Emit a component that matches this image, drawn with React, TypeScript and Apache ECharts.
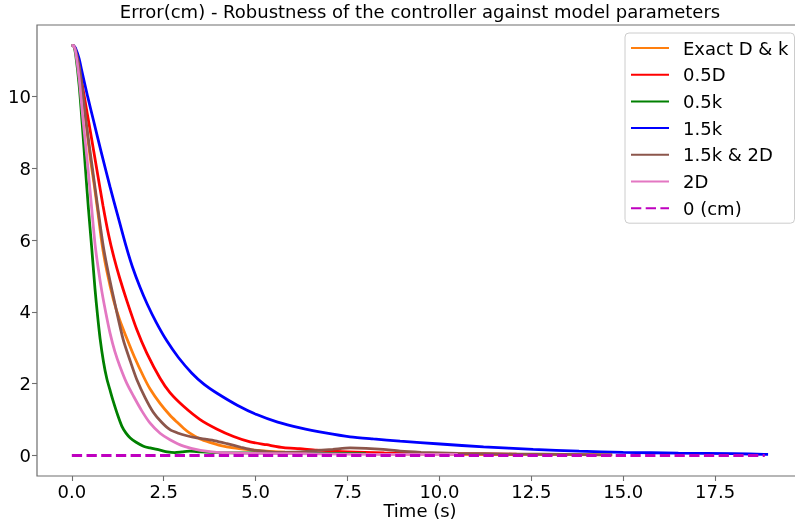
import React, { useEffect, useRef } from "react";
import * as echarts from "echarts";

const TITLE = "Error(cm) - Robustness of the controller against model parameters";
const X_NAME = "Time (s)";
const X_TICKS = [0, 2.5, 5, 7.5, 10, 12.5, 15, 17.5];
const Y_TICKS = [0, 2, 4, 6, 8, 10];

const tExact = [0, 0.05, 0.1, 0.2, 0.3, 0.4, 0.5, 0.6, 0.7, 0.82, 0.95, 1.13, 1.3, 1.5, 1.7, 1.95, 2.13, 2.4, 2.67, 2.86, 3.04, 3.2, 3.49, 3.8, 4.0, 4.4, 4.85, 5.3, 5.8, 6.2, 7.0, 8.0, 9.0, 10.0, 11.5, 13.0, 14.7];
const vExact = [11.42, 11.41, 11.3, 10.8, 10.05, 9.15, 8.3, 7.6, 6.85, 5.9, 5.15, 4.35, 3.78, 3.25, 2.75, 2.2, 1.85, 1.45, 1.12, 0.93, 0.76, 0.63, 0.46, 0.35, 0.29, 0.21, 0.16, 0.12, 0.09, 0.07, 0.06, 0.05, 0.04, 0.04, 0.03, 0.03, 0.02];

const tHalfD = [0, 0.05, 0.1, 0.2, 0.31, 0.5, 0.7, 0.85, 1.0, 1.15, 1.3, 1.5, 1.77, 2.04, 2.4, 2.67, 3.04, 3.49, 3.94, 4.4, 4.85, 5.3, 5.76, 6.2, 6.66, 7.5, 8.5, 10.0, 12.1];
const vHalfD = [11.42, 11.41, 11.3, 10.85, 10.17, 9.05, 7.85, 6.95, 6.15, 5.5, 4.95, 4.3, 3.5, 2.85, 2.15, 1.75, 1.37, 1.0, 0.74, 0.53, 0.38, 0.3, 0.22, 0.19, 0.15, 0.1, 0.07, 0.05, 0.04];

const tHalfK = [0, 0.05, 0.1, 0.2, 0.3, 0.37, 0.45, 0.54, 0.63, 0.7, 0.77, 0.86, 0.95, 1.05, 1.13, 1.25, 1.36, 1.47, 1.59, 1.75, 1.95, 2.13, 2.4, 2.6, 2.8, 3.0, 3.2, 3.5, 3.94, 5.0, 6.0, 7.0, 8.0];
const vHalfK = [11.42, 11.41, 11.2, 10.3, 9.0, 8.0, 6.9, 5.8, 4.65, 3.9, 3.25, 2.62, 2.15, 1.78, 1.5, 1.12, 0.82, 0.63, 0.49, 0.37, 0.26, 0.21, 0.15, 0.1, 0.08, 0.1, 0.12, 0.1, 0.08, 0.07, 0.06, 0.06, 0.05];

const tOneHalfK = [0, 0.05, 0.1, 0.2, 0.27, 0.43, 0.59, 0.8, 1.04, 1.25, 1.47, 1.65, 1.85, 2.05, 2.3, 2.58, 2.9, 3.26, 3.6, 3.94, 4.5, 5.03, 5.6, 6.21, 6.9, 7.57, 8.2, 8.93, 10.02, 11.2, 12.55, 13.8, 15.0, 16.5, 18.0, 18.94];
const vOneHalfK = [11.42, 11.41, 11.35, 11.05, 10.72, 10.0, 9.33, 8.45, 7.48, 6.68, 5.85, 5.25, 4.7, 4.22, 3.7, 3.2, 2.73, 2.3, 1.98, 1.74, 1.4, 1.14, 0.93, 0.77, 0.63, 0.52, 0.46, 0.4, 0.32, 0.24, 0.17, 0.12, 0.09, 0.065, 0.05, 0.03];

const tKD = [0, 0.05, 0.1, 0.2, 0.3, 0.4, 0.56, 0.7, 0.86, 1.0, 1.2, 1.4, 1.6, 1.77, 2.0, 2.22, 2.45, 2.67, 2.9, 3.13, 3.4, 3.67, 3.9, 4.22, 4.6, 4.94, 5.3, 5.58, 6.21, 6.7, 7.1, 7.57, 8.0, 8.47, 8.93, 9.5, 10.5, 12.0, 13.5, 14.7];
const vKD = [11.42, 11.41, 11.3, 10.85, 10.1, 9.2, 8.0, 6.95, 5.8, 5.05, 4.1, 3.22, 2.6, 2.11, 1.6, 1.2, 0.92, 0.72, 0.62, 0.55, 0.49, 0.45, 0.41, 0.33, 0.23, 0.15, 0.11, 0.09, 0.1, 0.14, 0.17, 0.21, 0.2, 0.17, 0.12, 0.09, 0.06, 0.04, 0.03, 0.02];

const tTwoD = [0, 0.05, 0.1, 0.2, 0.3, 0.44, 0.53, 0.63, 0.72, 0.82, 0.93, 1.04, 1.17, 1.31, 1.5, 1.68, 1.9, 2.13, 2.4, 2.67, 3.04, 3.5, 3.94, 4.85, 6.0, 7.5, 9.0, 10.5];
const vTwoD = [11.42, 11.41, 11.25, 10.5, 9.4, 8.0, 7.0, 5.9, 5.2, 4.55, 3.95, 3.41, 2.9, 2.48, 2.0, 1.65, 1.25, 0.9, 0.62, 0.44, 0.26, 0.14, 0.09, 0.06, 0.05, 0.04, 0.03, 0.03];

const tZero = [0, 18.85];
const vZero = [0, 0];

const NAMES = ["Exact D & k", "0.5D", "0.5k", "1.5k", "1.5k & 2D", "2D", "0 (cm)"];
const COLORS = ["#ff7f0e", "#ff0000", "#008000", "#0000ff", "#8c564b", "#e377c2", "#bf00bf"];

const zip = (t: number[], v: number[]) => t.map((x, i) => [x, v[i]]);

export default function App() {
  const ref = useRef<HTMLDivElement>(null);
  useEffect(() => {
    document.body.style.margin = "0";
    if (!ref.current) return;
    const chart = echarts.init(ref.current, undefined, { renderer: "svg" });
    const font = "DejaVu Sans";
    const axisColor = "#6e6e6e";
    const datasets = [
      zip(tExact, vExact),
      zip(tHalfD, vHalfD),
      zip(tHalfK, vHalfK),
      zip(tOneHalfK, vOneHalfK),
      zip(tKD, vKD),
      zip(tTwoD, vTwoD),
      zip(tZero, vZero),
    ];
    const series = datasets.map((d, i) => ({
      name: NAMES[i],
      type: "line",
      data: d,
      symbol: "none",
      smooth: i === 6 ? false : 0.25,
      color: COLORS[i],
      lineStyle: {
        color: COLORS[i],
        width: 2.78,
        type: i === 6 ? [10.3, 4.4] : "solid",
      },
      emphasis: { disabled: true },
    }));
    chart.setOption({
      animation: false,
      textStyle: { fontFamily: font },
      title: {
        text: TITLE,
        left: 420,
        textAlign: "center",
        top: 2,
        padding: 0,
        textStyle: { fontSize: 18, fontWeight: "normal", color: "#000", fontFamily: font },
      },
      legend: {
        orient: "vertical",
        left: 625,
        top: 33,
        padding: [5, 6, 5, 5],
        itemWidth: 38,
        itemHeight: 20,
        itemGap: 6.7,
        borderColor: "#cccccc",
        borderWidth: 1,
        borderRadius: 4,
        backgroundColor: "rgba(255,255,255,0.8)",
        itemStyle: { opacity: 0 },
        textStyle: { fontSize: 18, lineHeight: 20, color: "#000", fontFamily: font, padding: [0, 0, 0, 9] },
        data: NAMES,
      },
      grid: {
        left: 37,
        top: 25,
        right: -8,
        bottom: 47,
        containLabel: false,
        outerBoundsMode: "none",
        show: true,
        borderColor: axisColor,
        borderWidth: 1.2,
        backgroundColor: "transparent",
      },
      xAxis: {
        type: "value",
        min: -0.947,
        max: 19.89,
        name: X_NAME,
        nameLocation: "middle",
        nameGap: 25,
        nameMoveOverlap: false,
        nameTextStyle: { fontSize: 18, lineHeight: 18, color: "#000", fontFamily: font },
        axisLine: { show: false, onZero: false },
        splitLine: { show: false },
        axisTick: { show: true, length: 5, customValues: X_TICKS, lineStyle: { color: axisColor, width: 1.1 } },
        axisLabel: {
          customValues: X_TICKS,
          fontSize: 18,
          lineHeight: 17,
          color: "#000",
          fontFamily: font,
          margin: 7,
          formatter: (v: number) => v.toFixed(1),
        },
      },
      yAxis: {
        type: "value",
        min: -0.571,
        max: 11.99,
        axisLine: { show: false, onZero: false },
        splitLine: { show: false },
        axisTick: { show: true, length: 5, customValues: Y_TICKS, lineStyle: { color: axisColor, width: 1.1 } },
        axisLabel: {
          customValues: Y_TICKS,
          fontSize: 18,
          color: "#000",
          fontFamily: font,
          margin: 6,
          formatter: (v: number) => String(Math.round(v)),
        },
      },
      series,
    });
    return () => chart.dispose();
  }, []);
  return <div ref={ref} style={{ position: "fixed", left: 0, top: 0, width: 795, height: 523 }} />;
}
